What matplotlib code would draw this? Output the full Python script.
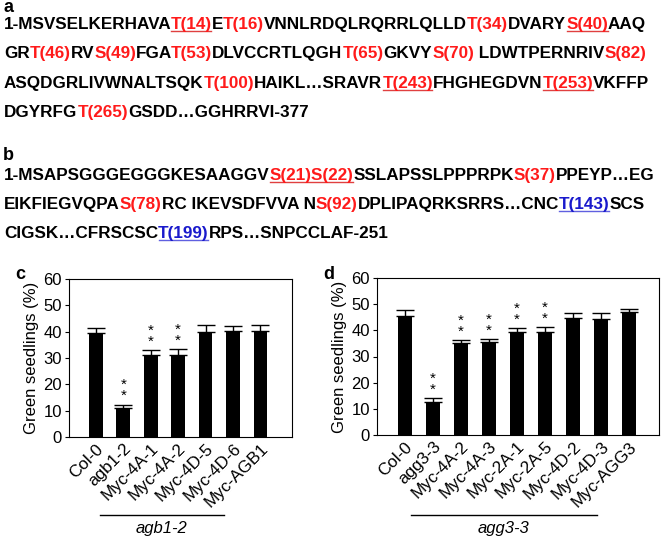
import numpy as np
import matplotlib
matplotlib.use("Agg")
import matplotlib.pyplot as plt
from matplotlib.lines import Line2D
from matplotlib.font_manager import FontProperties
from matplotlib.textpath import text_to_path
from matplotlib.backends.backend_agg import get_hinting_flag

plt.rcParams['font.family'] = ['Liberation Sans', 'DejaVu Sans']

W, H = 661, 538

# ---------------- data ----------------
c_labels = ["Col-0", "agb1-2", "Myc-4A-1", "Myc-4A-2", "Myc-4D-5", "Myc-4D-6", "Myc-AGB1"]
c_values = [39.5, 11.0, 31.0, 31.0, 40.0, 40.3, 40.3]
c_errors = [2.0, 1.3, 2.0, 2.3, 2.5, 2.0, 2.3]
c_signif = [False, True, True, True, False, False, False]

d_labels = ["Col-0", "agg3-3", "Myc-4A-2", "Myc-4A-3", "Myc-2A-1", "Myc-2A-5",
            "Myc-4D-2", "Myc-4D-3", "Myc-AGG3"]
d_values = [45.3, 12.5, 35.0, 35.5, 39.5, 39.5, 44.7, 44.5, 47.0]
d_errors = [2.5, 1.7, 1.3, 1.2, 1.5, 1.8, 2.0, 2.0, 1.3]
d_signif = [False, True, True, True, True, True, False, False, False]

RED = "#ff1a1a"
BLUE = "#1a1acc"
BLACK = "#000000"

seq_a = [
    [("1-MSVSELKERHAVA", BLACK, False), ("T(14)", RED, True), ("E", BLACK, False),
     ("T(16)", RED, False), ("VNNLRDQLRQRRLQLLD", BLACK, False), ("T(34)", RED, False),
     ("DVARY", BLACK, False), ("S(40)", RED, True), ("AAQ", BLACK, False)],
    [("GR", BLACK, False), ("T(46)", RED, False), ("RV", BLACK, False), ("S(49)", RED, False),
     ("FGA", BLACK, False), ("T(53)", RED, False), ("DLVCCRTLQGH", BLACK, False),
     ("T(65)", RED, False), ("GKVY", BLACK, False), ("S(70)", RED, False),
     (" LDWTPERNRIV", BLACK, False), ("S(82)", RED, False)],
    [("ASQDGRLIVWNALTSQK", BLACK, False), ("T(100)", RED, False),
     ("HAIKL\u2026SRAVR", BLACK, False), ("T(243)", RED, True), ("FHGHEGDVN", BLACK, False),
     ("T(253)", RED, True), ("VKFFP", BLACK, False)],
    [("DGYRFG", BLACK, False), ("T(265)", RED, False), ("GSDD\u2026GGHRRVI-377", BLACK, False)],
]
seq_b = [
    [("1-MSAPSGGGEGGGKESAAGGV", BLACK, False), ("S(21)S(22)", RED, True),
     ("SSLAPSSLPPPRPK", BLACK, False), ("S(37)", RED, False), ("PPEYP\u2026EG", BLACK, False)],
    [("EIKFIEGVQPA", BLACK, False), ("S(78)", RED, False), ("RC IKEVSDFVVA N", BLACK, False),
     ("S(92)", RED, False), ("DPLIPAQRKSRRS\u2026CNC", BLACK, False), ("T(143)", BLUE, True),
     ("SCS", BLACK, False)],
    [("CIGSK\u2026CFRSCSC", BLACK, False), ("T(199)", BLUE, True),
     ("RPS\u2026SNPCCLAF-251", BLACK, False)],
]

fig = plt.figure(figsize=(W / 100, H / 100), dpi=100)
renderer = fig.canvas.get_renderer()


def tp_positions(full, prop):
    """Unhinted pen positions (px) of each glyph plus the end, via text_to_path."""
    font = text_to_path._get_font(prop)
    font.set_size(text_to_path.FONT_SCALE, text_to_path.DPI)
    gi, _, _ = text_to_path.get_glyphs_with_font(font, full + "|")
    px = prop.get_size_in_points() * 100.0 / 72.0
    return [g[1] * px / 100.0 for g in gi]


def agg_positions(full, prop):
    """Pen positions (px) that the Agg renderer itself uses; fall back to unhinted ones."""
    est = tp_positions(full, prop)
    try:
        font = renderer._prepare_font(prop)
        raw = np.asarray(font.set_text(full + "|", 0.0, flags=get_hinting_flag()),
                         dtype=float)
        n = len(full) + 1
        if raw.ndim == 2:
            xs = raw[:, 0]
        elif raw.size == 2 * n:
            xs = raw[0::2]
        else:
            xs = raw
        if len(xs) != n:
            return est
        if est[-1] > 0 and xs[-1] > 10 * est[-1]:
            xs = xs / 64.0
        return list(xs)
    except Exception:
        return est


# font size chosen so that the first sequence line spans the reference width
_line1 = "".join(s for s, _, _ in seq_a[0])
_p = FontProperties(family='Liberation Sans', weight='bold', size=10)
_w10 = tp_positions(_line1, _p)[-1]
SEQ_FS = 10 * 641.0 / _w10
SEQ_PROP = FontProperties(family='Liberation Sans', weight='bold', size=SEQ_FS)


def draw_runs(x_px, base_px, runs):
    full = "".join(s for s, _, _ in runs)
    pos = agg_positions(full, SEQ_PROP)
    idx = 0
    for s, col, ul in runs:
        x = x_px + pos[idx]
        xe = x_px + pos[idx + len(s)]
        fig.text(x / W, 1 - base_px / H, s, color=col, fontproperties=SEQ_PROP,
                 va='baseline', ha='left')
        if ul:
            uy = (H - base_px - 2) / H
            ucol = "#e04040" if col == RED else "#6060e0"
            fig.add_artist(Line2D([(x + 0.5) / W, (xe - 0.5) / W], [uy, uy],
                                  color=ucol, lw=1.0, transform=fig.transFigure))
        idx += len(s)


fig.text(3 / W, 1 - 12 / H, "a", fontsize=13, fontweight='bold', va='baseline')
for i, runs in enumerate(seq_a):
    draw_runs(4, [29, 58, 88, 117][i], runs)

fig.text(3 / W, 1 - 160 / H, "b", fontsize=13, fontweight='bold', va='baseline')
for i, runs in enumerate(seq_b):
    draw_runs(4, [180, 209, 238][i], runs)


def bar_panel(rect, labels, values, errors, signif, xlim):
    ax = fig.add_axes(rect)
    x = list(range(len(labels)))
    ax.bar(x, values, width=0.5, color='black', zorder=2)
    ax.errorbar(x, values, yerr=[[0] * len(errors), errors], fmt='none',
                ecolor='black', elinewidth=1.0, capsize=6.5, capthick=1.0, zorder=1)
    for xi, v, e, s in zip(x, values, errors, signif):
        if s:
            top = v + e
            ax.text(xi, top + 3.2, "*", ha='center', va='center', fontsize=11)
            ax.text(xi, top + 7.4, "*", ha='center', va='center', fontsize=11)
    ax.set_ylim(0, 60)
    ax.set_xlim(*xlim)
    ax.set_yticks([0, 10, 20, 30, 40, 50, 60])
    ax.tick_params(axis='y', direction='out', length=3, width=0.8, labelsize=12, pad=2)
    ax.tick_params(axis='x', length=0, labelsize=12.3, pad=3)
    ax.set_xticks(x)
    ax.set_xticklabels(labels, rotation=45, ha='right', rotation_mode='anchor')
    for sp in ax.spines.values():
        sp.set_linewidth(0.8)
    ax.set_ylabel("Green seedlings (%)", fontsize=12, labelpad=3)
    return ax


axc = bar_panel([69 / W, 1 - 437 / H, 223 / W, 158 / H], c_labels, c_values, c_errors,
                c_signif, (-0.98, 7.15))
axd = bar_panel([377 / W, 1 - 435 / H, 282 / W, 157 / H], d_labels, d_values, d_errors,
                d_signif, (-1.0, 9.07))

fig.text(15 / W, 1 - 279 / H, "c", fontsize=13, fontweight='bold', va='baseline')
fig.text(323 / W, 1 - 279 / H, "d", fontsize=13, fontweight='bold', va='baseline')

# group lines and labels
fig.add_artist(Line2D([100 / W, 224 / W], [1 - 515 / H, 1 - 515 / H], color='black', lw=1.0,
                      transform=fig.transFigure))
fig.text(162 / W, 1 - 528 / H, "agb1-2", fontsize=12, style='italic', ha='center', va='center')
fig.add_artist(Line2D([411 / W, 597 / W], [1 - 515 / H, 1 - 515 / H], color='black', lw=1.0,
                      transform=fig.transFigure))
fig.text(503 / W, 1 - 528 / H, "agg3-3", fontsize=12, style='italic', ha='center', va='center')

fig.savefig("out.png", dpi=100)
